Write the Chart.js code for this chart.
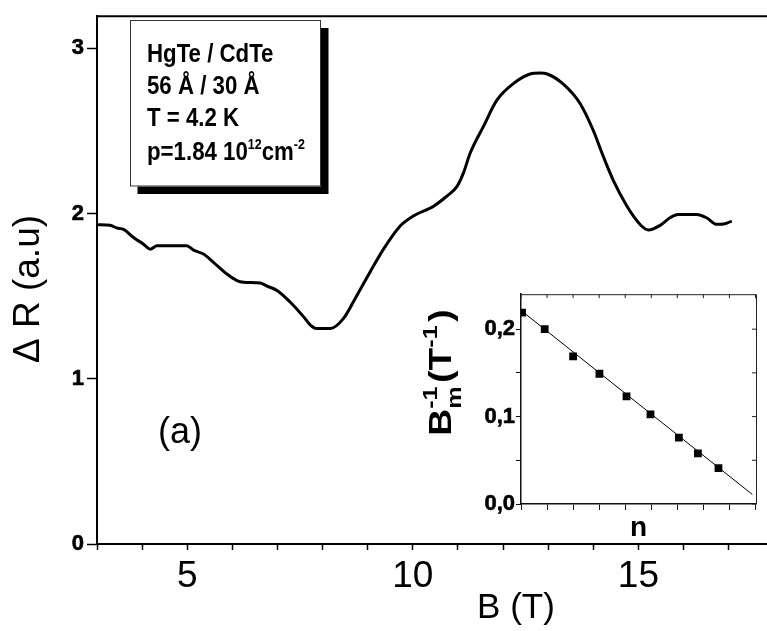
<!DOCTYPE html>
<html>
<head>
<meta charset="utf-8">
<script src="https://cdn.jsdelivr.net/npm/chart.js@4.4.1/dist/chart.umd.min.js"></script>
<style>
  html, body { margin: 0; padding: 0; background: #fff; }
  #wrap { position: relative; width: 767px; height: 631px; overflow: hidden; }
  #mainChart { position: absolute; left: 0; top: 0; }
  #insetChart { position: absolute; left: 420px; top: 280px; }
</style>
</head>
<body>
<div id="wrap">
  <canvas id="mainChart" width="767" height="631"></canvas>
  <canvas id="insetChart" width="347" height="265"></canvas>
</div>
<script>
const FONT = "'Liberation Sans', Arial, sans-serif";

// main curve: Delta R vs B
const fieldB = [3.00, 3.29, 3.44, 3.59, 3.81, 4.03, 4.18, 4.33, 4.99, 5.14, 5.36, 5.58, 5.88, 6.10, 6.25, 6.62, 6.77, 6.99,
  7.28, 7.58, 7.73, 7.87, 8.17, 8.46, 8.76, 9.05, 9.35, 9.72, 10.01, 10.46, 10.75, 10.98, 11.12, 11.27, 11.56, 11.86,
  12.22, 12.60, 12.82, 12.98, 13.33, 13.71, 14.00, 14.22, 14.44, 14.74, 14.89, 15.07, 15.22, 15.48, 15.70, 15.88,
  16.29, 16.51, 16.74, 16.92, 17.07];
const deltaR = [1.933, 1.929, 1.913, 1.905, 1.855, 1.815, 1.785, 1.805, 1.805, 1.779, 1.755, 1.705, 1.634, 1.595, 1.585, 1.580, 1.561, 1.535,
  1.465, 1.375, 1.325, 1.304, 1.304, 1.364, 1.505, 1.645, 1.785, 1.925, 1.985, 2.045, 2.105, 2.165, 2.245, 2.365, 2.525, 2.685,
  2.785, 2.845, 2.851, 2.845, 2.785, 2.665, 2.503, 2.347, 2.203, 2.047, 1.985, 1.925, 1.901, 1.929, 1.975, 1.995,
  1.995, 1.975, 1.935, 1.939, 1.955];
const xLabels = [5, 10, 15];
const yLabels = [0, 1, 2, 3];

// inset: 1/B_m vs n
const levelN = [0.04, 0.91, 2.00, 3.01, 4.05, 4.97, 6.06, 6.79, 7.58];
const invBm = [0.219, 0.200, 0.169, 0.149, 0.123, 0.1025, 0.076, 0.058, 0.041];
const fitN = [0, 8.88];
const fitInvB = [0.2214, 0.0109];

const infoLines = ['HgTe / CdTe', '56 \u00C5 / 30 \u00C5', 'T = 4.2 K'];

const toXY = (xs, ys) => xs.map((x, i) => ({ x, y: ys[i] }));

// text + box decorations on the main chart
const mainDeco = {
  id: 'mainDeco',
  afterDraw(chart) {
    const { ctx, chartArea } = chart;
    ctx.save();
    // top frame line
    ctx.strokeStyle = '#000';
    ctx.lineWidth = 2;
    ctx.beginPath();
    ctx.moveTo(chartArea.left, chartArea.top);
    ctx.lineTo(chartArea.right, chartArea.top);
    ctx.stroke();

    // info box with drop shadow
    ctx.fillStyle = '#000';
    ctx.fillRect(137.5, 28, 191, 166);
    ctx.fillStyle = '#fff';
    ctx.fillRect(130, 20.5, 191, 166);
    ctx.strokeStyle = '#333';
    ctx.lineWidth = 1;
    ctx.strokeRect(130.5, 20.5, 190, 165.5);

    ctx.fillStyle = '#000';
    ctx.textBaseline = 'alphabetic';
    ctx.textAlign = 'left';
    ctx.save();
    ctx.translate(147, 0);
    ctx.scale(0.89, 1);
    const base = [61.5, 93.5, 126, 160];
    ctx.font = 'bold 25px ' + FONT;
    infoLines.forEach((t, i) => ctx.fillText(t, 0, base[i]));
    let x = 0;
    const parts = [['p=1.84 10', 25, 0], ['12', 14, -11], ['cm', 25, 0], ['-2', 14, -11]];
    parts.forEach(([t, s, dy]) => {
      ctx.font = 'bold ' + s + 'px ' + FONT;
      ctx.fillText(t, x, base[3] + dy);
      x += ctx.measureText(t).width;
    });
    ctx.restore();

    // panel label
    ctx.font = '36px ' + FONT;
    ctx.textAlign = 'center';
    ctx.textBaseline = 'middle';
    ctx.fillText('(a)', 180, 433);

    // axis titles
    ctx.font = '35px ' + FONT;
    ctx.fillText('B (T)', 516, 608);
    ctx.save();
    ctx.translate(29, 289);
    ctx.rotate(-Math.PI / 2);
    ctx.font = '37px ' + FONT;
    ctx.fillText('\u0394 R (a.u)', 0, 0);
    ctx.restore();
    ctx.restore();
  }
};

new Chart(document.getElementById('mainChart'), {
  type: 'scatter',
  data: {
    datasets: [{
      data: toXY(fieldB, deltaR),
      showLine: true,
      borderColor: '#000',
      borderWidth: 3,
      pointRadius: 0,
      cubicInterpolationMode: 'monotone'
    }]
  },
  options: {
    responsive: false,
    animation: false,
    layout: { padding: { top: 12, right: 0, left: 0, bottom: 0 } },
    plugins: { legend: { display: false }, tooltip: { enabled: false } },
    scales: {
      x: {
        type: 'linear',
        min: 3,
        max: 17.85,
        afterFit: s => { s.height = 87; },
        border: { color: '#000', width: 2 },
        grid: { drawOnChartArea: false, drawTicks: true, tickLength: 6, color: '#000', tickWidth: 1.5 },
        ticks: {
          stepSize: 1,
          includeBounds: false,
          autoSkip: false,
          maxRotation: 0,
          padding: 5,
          color: '#000',
          font: { size: 37, family: FONT },
          callback: v => xLabels.includes(v) ? String(v) : ''
        }
      },
      y: {
        type: 'linear',
        min: 0,
        max: 3.195,
        afterFit: s => { s.width = 97; },
        border: { color: '#000', width: 2 },
        grid: { drawOnChartArea: false, drawTicks: true, tickLength: 10, color: '#000', tickWidth: 1.5 },
        ticks: {
          stepSize: 1,
          includeBounds: false,
          padding: 3,
          color: '#000',
          textStrokeColor: '#000',
          textStrokeWidth: 0.6,
          font: { size: 22, weight: 'bold', family: FONT },
          callback: v => yLabels.includes(v) ? String(v) : ''
        }
      }
    }
  },
  plugins: [mainDeco]
});

// inset frame (top / right with inward ticks) and rotated title
const insetDeco = {
  id: 'insetDeco',
  afterDraw(chart) {
    const { ctx, chartArea: a, scales } = chart;
    ctx.save();
    ctx.strokeStyle = '#222';
    ctx.lineWidth = 1;
    ctx.beginPath();
    ctx.moveTo(a.left, a.top + 0.5);
    ctx.lineTo(a.right + 0.5, a.top + 0.5);
    ctx.lineTo(a.right + 0.5, a.bottom);
    scales.x.ticks.forEach(t => {
      const px = scales.x.getPixelForValue(t.value);
      ctx.moveTo(px, a.top);
      ctx.lineTo(px, a.top + 4);
    });
    scales.y.ticks.forEach(t => {
      const py = scales.y.getPixelForValue(t.value);
      ctx.moveTo(a.right, py);
      ctx.lineTo(a.right - 4, py);
    });
    ctx.stroke();

    // B_m^-1 (T^-1)
    const big = 'bold 31px ' + FONT, small = 'bold 21px ' + FONT;
    ctx.translate(23, 92.5);
    ctx.rotate(-Math.PI / 2);
    ctx.scale(1.2, 1);
    ctx.fillStyle = '#000';
    ctx.textBaseline = 'alphabetic';
    ctx.textAlign = 'left';
    ctx.font = big;
    const wB = ctx.measureText('B').width, wP = ctx.measureText('(T').width, wC = ctx.measureText(')').width;
    ctx.font = small;
    const wm = ctx.measureText('m').width, ws = ctx.measureText('-1').width;
    const gap = 3;
    const total = wB + Math.max(wm, ws) + gap + wP + ws + gap + wC;
    let x = -total / 2;
    const base = 8;
    ctx.font = big; ctx.fillText('B', x, base); x += wB;
    ctx.font = small; ctx.fillText('m', x, base + 10); ctx.fillText('-1', x, base - 14); x += Math.max(wm, ws) + gap;
    ctx.font = big; ctx.fillText('(T', x, base); x += wP;
    ctx.font = small; ctx.fillText('-1', x, base - 14); x += ws + gap;
    ctx.font = big; ctx.fillText(')', x, base);
    ctx.restore();
  }
};

new Chart(document.getElementById('insetChart'), {
  type: 'scatter',
  data: {
    datasets: [
      {
        data: toXY(levelN, invBm),
        pointStyle: 'rect',
        pointRadius: 5.5,
        backgroundColor: '#000',
        borderColor: '#000',
        borderWidth: 0,
        showLine: false
      },
      {
        data: toXY(fitN, fitInvB),
        showLine: true,
        borderColor: '#000',
        borderWidth: 1,
        pointRadius: 0
      }
    ]
  },
  options: {
    responsive: false,
    animation: false,
    layout: { padding: { top: 4, right: 11, left: 0, bottom: 0 } },
    plugins: { legend: { display: false }, tooltip: { enabled: false } },
    scales: {
      x: {
        type: 'linear',
        min: 0,
        max: 9.02,
        afterFit: s => { s.height = 41; },
        border: { color: '#111', width: 1.5 },
        grid: { drawOnChartArea: false, drawTicks: true, tickLength: 6, color: '#111', tickWidth: 1 },
        ticks: { stepSize: 1, includeBounds: false, display: false },
        title: { display: true, text: 'n', color: '#000', padding: 0, font: { size: 28, weight: 'bold', family: FONT } }
      },
      y: {
        type: 'linear',
        min: 0,
        max: 0.24,
        afterFit: s => { s.width = 101; },
        border: { color: '#111', width: 1.5 },
        grid: { drawOnChartArea: false, drawTicks: true, tickLength: 5, color: '#111', tickWidth: 1 },
        ticks: {
          stepSize: 0.05,
          includeBounds: false,
          padding: 1,
          color: '#000',
          textStrokeColor: '#000',
          textStrokeWidth: 0.6,
          font: { size: 22, weight: 'bold', family: FONT },
          callback: v => {
            const k = Math.round(v * 20);
            return k % 2 === 0 ? (k / 20).toFixed(1).replace('.', ',') : '';
          }
        }
      }
    }
  },
  plugins: [insetDeco]
});
</script>
</body>
</html>
